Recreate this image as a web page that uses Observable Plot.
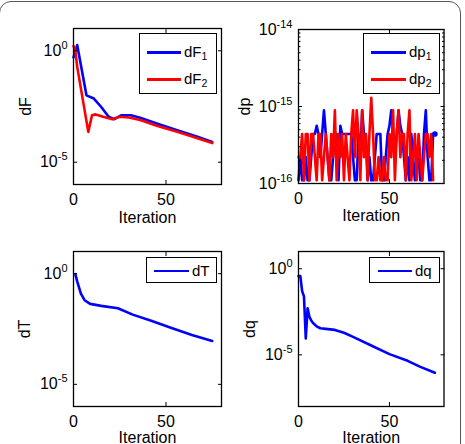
<!DOCTYPE html>
<html><head><meta charset="utf-8">
<script src="https://cdn.jsdelivr.net/npm/d3@7"></script>
<script src="https://cdn.jsdelivr.net/npm/@observablehq/plot@0.6"></script>
<style>
body{margin:0;background:#fff;}
#fig{position:relative;width:465px;height:444px;overflow:hidden;font-family:"Liberation Sans",Arial,sans-serif;background:#fff;}
#border{position:absolute;left:-1px;top:0.5px;width:460px;height:520px;border:1.6px solid #555;border-radius:12px;}
.panel{position:absolute;}
.legend{position:absolute;border:1.3px solid #000;background:#fff;box-sizing:border-box;font-size:15px;color:#000;}
.legend .row{position:absolute;left:0;height:20px;width:100%;}
.legend .ln{position:absolute;height:2.6px;}
.legend .lb{position:absolute;line-height:15px;white-space:nowrap;}
.legend sub{font-size:10.5px;position:relative;top:3px;vertical-align:baseline;}
</style></head>
<body><div id="fig"><div id="border"></div></div>
<script>
// ---------- data ----------
const iterations = [0, 50];               // x tick labels
const xDomain = [0, 80];

// dF (top-left)
const dF1_it = [0, 2, 7, 11, 15, 19, 22, 26, 31, 36, 45, 56, 67, 75];
const dF1    = [0.5, 1.8, 1.0e-2, 7.2e-3, 3.0e-3, 1.1e-3, 8.5e-4, 1.29e-3, 1.29e-3, 9.8e-4, 5.5e-4, 2.75e-4, 1.38e-4, 8.1e-5];
const dF2_it = [0, 1, 2, 8, 10, 12, 16, 21, 25, 30, 36, 45, 56, 67, 75];
const dF2    = [1.66, 1.0, 0.19, 2.3e-4, 1.29e-3, 1.4e-3, 1.1e-3, 8.5e-4, 1.1e-3, 1.02e-3, 7.8e-4, 4.3e-4, 2.3e-4, 1.2e-4, 7.2e-5];

// dp (top-right), one value per iteration
const dp1 = [1.1e-16,2.2e-16,1.1e-16,1.1e-16,2.2e-16,1.1e-16,1.1e-16,2.2e-16,4.4e-16,4.4e-16,
             5.6e-16,4.4e-16,2.2e-16,4.4e-16,8.9e-16,4.4e-16,2.2e-16,1.1e-16,1.1e-16,2.2e-16,
             4.4e-16,4.4e-16,1.1e-16,5.6e-16,4.4e-16,4.4e-16,4.4e-16,4.4e-16,4.4e-16,4.4e-16,
             2.2e-16,1.1e-16,1.1e-16,4.4e-16,2.2e-16,8.9e-16,4.4e-16,4.4e-16,1.1e-16,2.2e-16,
             1.1e-16,1.1e-16,2.2e-16,4.4e-16,4.4e-16,4.4e-16,1.1e-16,1.1e-16,2.2e-16,4.4e-16,
             5.6e-16,8.9e-16,4.4e-16,2.2e-16,4.4e-16,8.9e-16,5.6e-16,4.4e-16,2.2e-16,1.1e-16,
             2.2e-16,1.1e-16,4.4e-16,2.2e-16,1.1e-16,2.2e-16,2.2e-16,1.1e-16,1.1e-16,4.4e-16,
             8.9e-16,2.2e-16,1.1e-16,1.1e-16,4.4e-16,4.4e-16];
const dp2 = [2.2e-16,2.2e-16,4.4e-16,1.1e-16,4.4e-16,4.4e-16,1.1e-16,4.4e-16,4.4e-16,2.2e-16,
             1.1e-16,4.4e-16,4.4e-16,1.1e-16,2.2e-16,4.4e-16,2.2e-16,1.1e-16,4.4e-16,2.2e-16,
             8.9e-16,1.1e-16,4.4e-16,2.2e-16,4.4e-16,1.1e-16,4.4e-16,2.2e-16,1.1e-16,4.4e-16,
             8.9e-16,2.2e-16,8.9e-16,4.4e-16,1.1e-16,8.9e-16,2.2e-16,4.4e-16,1.1e-16,4.4e-16,
             1.3e-15,4.4e-16,1.1e-16,1.1e-16,2.2e-16,1.1e-16,1.1e-16,2.2e-16,1.1e-16,1.1e-16,
             4.4e-16,2.2e-16,8.9e-16,1.1e-16,4.4e-16,8.9e-16,2.2e-16,4.4e-16,4.4e-16,1.1e-16,
             4.4e-16,8.9e-16,1.1e-16,2.2e-16,4.4e-16,1.1e-16,4.4e-16,2.2e-16,1.1e-16,2.2e-16,
             4.4e-16,4.4e-16,2.2e-16,4.4e-16,1.1e-16];

// dT (bottom-left)
const dT_it = [1, 2, 4, 6, 9, 15, 24, 32, 42, 53, 64, 75];
const dT    = [0.95, 0.45, 0.126, 0.063, 0.043, 0.035, 0.0275, 0.0141, 7.4e-3, 3.5e-3, 1.7e-3, 9.1e-4];

// dq (bottom-right)
const dq_it = [0, 1, 2, 3, 4, 5, 6, 7, 8, 10, 12, 15, 20, 25, 30, 40, 50, 60, 67, 75];
const dq    = [0.37, 0.37, 0.05, 0.025, 8.9e-5, 5e-3, 1.6e-3, 1e-3, 7.1e-4, 4.5e-4, 3.5e-4, 3.2e-4, 2.8e-4, 1.9e-4, 1.1e-4, 3.5e-5, 1.1e-5, 4.5e-6, 2e-6, 9.1e-7];

const BLUE = "#0000ff", RED = "#ff0000";

// ---------- helpers ----------
const rows = (xs, ys) => ys.map((y, i) => ({x: xs ? xs[i] : i, y}));

function panel(o) {
  const svg = Plot.plot({
    width: o.width, height: o.height,
    marginLeft: o.ml, marginRight: o.mr, marginTop: o.mt, marginBottom: o.mb,
    style: {fontFamily: "'Liberation Sans', Arial, sans-serif", fontSize: "16px", color: "#000", background: "transparent", overflow: "visible"},
    x: {domain: xDomain},
    y: {type: "log", domain: o.yDomain},
    marks: [
      ...o.series.map(s => Plot.line(s.data, {x: "x", y: "y", stroke: s.color, strokeWidth: 2.6, strokeLinejoin: "round", strokeLinecap: "round"})),
      ...(o.extra || []),
      Plot.axisX({anchor: "bottom", ticks: iterations, tickSize: 0, tickPadding: 9, tickFormat: d => String(d), label: "Iteration", labelArrow: "none", labelAnchor: "center", labelOffset: o.xlo}),
      Plot.axisX({anchor: "bottom", ticks: iterations, tickSize: -4, tickFormat: () => "", label: null}),
      Plot.axisX({anchor: "top", ticks: iterations, tickSize: -4, tickFormat: () => "", label: null}),
      Plot.axisY({anchor: "left", ticks: o.yTicks, tickSize: 0, tickPadding: 6, tickFormat: d => "10^" + Math.round(Math.log10(d)), label: o.ylabel, labelArrow: "none", labelAnchor: "center", labelOffset: o.lo}),
      Plot.axisY({anchor: "left", ticks: o.yTicks, tickSize: -4, tickFormat: () => "", label: null}),
      Plot.axisY({anchor: "right", ticks: o.yTicks, tickSize: -4, tickFormat: () => "", label: null}),
      ...(o.minor ? [
        Plot.axisY({anchor: "left", ticks: o.minor, tickSize: -2.5, tickFormat: () => "", label: null}),
        Plot.axisY({anchor: "right", ticks: o.minor, tickSize: -2.5, tickFormat: () => "", label: null})
      ] : []),
      Plot.frame({stroke: "#000", strokeWidth: 1.3})
    ]
  });
  // superscript exponents
  svg.querySelectorAll("text").forEach(t => {
    const m = /^10\^(-?\d+)$/.exec(t.textContent);
    if (m) {
      t.textContent = "10";
      const sp = document.createElementNS("http://www.w3.org/2000/svg", "tspan");
      sp.setAttribute("dy", "-7");
      sp.setAttribute("font-size", "11px");
      sp.textContent = m[1];
      t.appendChild(sp);
    }
  });
  const div = document.createElement("div");
  div.className = "panel";
  div.style.left = o.left + "px";
  div.style.top = o.top + "px";
  div.appendChild(svg);
  document.getElementById("fig").appendChild(div);

  // legend
  const lg = document.createElement("div");
  lg.className = "legend";
  Object.assign(lg.style, {left: o.legend.x + "px", top: o.legend.y + "px", width: o.legend.w + "px", height: o.legend.h + "px"});
  o.series.forEach((s, i) => {
    const r = document.createElement("div");
    r.className = "row";
    r.style.top = (o.legend.row0 + i * 27 - 10) + "px";
    const ln = document.createElement("div");
    ln.className = "ln";
    Object.assign(ln.style, {left: o.legend.lx + "px", width: o.legend.lw + "px", top: "9px", background: s.color});
    const lb = document.createElement("div");
    lb.className = "lb";
    Object.assign(lb.style, {left: (o.legend.lx + o.legend.lw + 3) + "px", top: "2px"});
    lb.innerHTML = s.name + (s.sub ? "<sub>" + s.sub + "</sub>" : "");
    r.appendChild(ln); r.appendChild(lb);
    lg.appendChild(r);
  });
  document.getElementById("fig").appendChild(lg);
}

const minorDp = [2e-16,3e-16,4e-16,5e-16,6e-16,7e-16,8e-16,9e-16,2e-15,3e-15,4e-15,5e-15,6e-15,7e-15,8e-15,9e-15];
const dp1Rows = rows(null, dp1);

panel({left: 0, top: 0, width: 232, height: 222, ml: 73, mr: 11, mt: 28, mb: 38, xlo: 38,
  yDomain: [1e-6, 10], yTicks: [1, 1e-5], ylabel: "dF", lo: 54,
  series: [
    {data: rows(dF1_it, dF1), color: BLUE, name: "dF", sub: "1"},
    {data: rows(dF2_it, dF2), color: RED, name: "dF", sub: "2"}
  ],
  legend: {x: 139, y: 33, w: 78, h: 61, row0: 18, lx: 7, lw: 34}
});

panel({left: 232, top: 0, width: 233, height: 222, ml: 66, mr: 21.5, mt: 29, mb: 39, xlo: 37,
  yDomain: [1e-16, 1e-14], yTicks: [1e-14, 1e-15, 1e-16], minor: minorDp, ylabel: "dp", lo: 60,
  series: [
    {data: dp1Rows, color: BLUE, name: "dp", sub: "1"},
    {data: rows(null, dp2), color: RED, name: "dp", sub: "2"}
  ],
  // last dp1 value drawn as a dot
  extra: [Plot.dot(dp1Rows.slice(-1), {x: "x", y: "y", r: 2.8, fill: BLUE, stroke: "none"})],
  legend: {x: 363, y: 33, w: 77, h: 61, row0: 18, lx: 7, lw: 35}
});

panel({left: 0, top: 222, width: 232, height: 222, ml: 73, mr: 11, mt: 29, mb: 38, xlo: 36,
  yDomain: [1e-6, 10], yTicks: [1, 1e-5], ylabel: "dT", lo: 55,
  series: [{data: rows(dT_it, dT), color: BLUE, name: "dT"}],
  legend: {x: 146, y: 257, w: 71, h: 26, row0: 12.5, lx: 7, lw: 35}
});

panel({left: 232, top: 222, width: 233, height: 222, ml: 66, mr: 21.5, mt: 29, mb: 38, xlo: 36,
  yDomain: [1e-8, 10], yTicks: [1, 1e-5], ylabel: "dq", lo: 55,
  series: [{data: rows(dq_it, dq), color: BLUE, name: "dq"}],
  legend: {x: 369, y: 257, w: 71, h: 26, row0: 12.5, lx: 8, lw: 34}
});
</script>
</body></html>
